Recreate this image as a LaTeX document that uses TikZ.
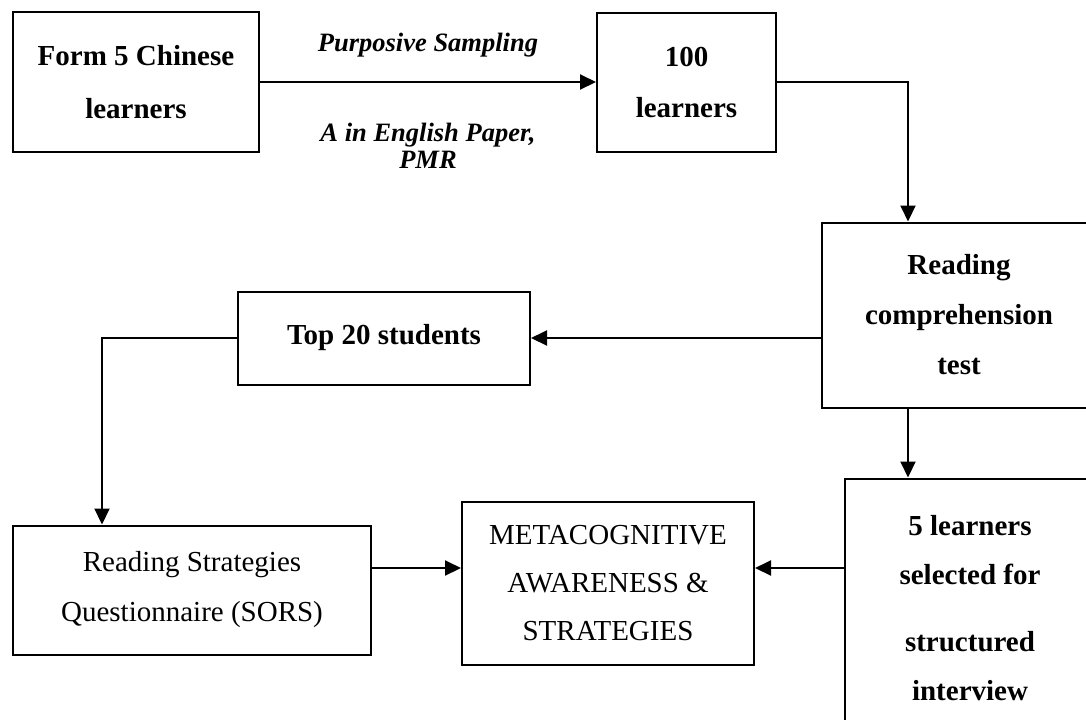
\documentclass[tikz,border=0pt]{standalone}
\usepackage{fontspec}
\setmainfont{Liberation Serif}
\usetikzlibrary{positioning,arrows.meta}
\tikzset{%
  flow box/.style={
    draw,
    align=center,
    inner sep=0pt
  },
  bold lines/.style={
    font=\fontsize{14.5}{#1}\selectfont\bfseries
  },
  plain lines/.style={
    font=\fontsize{14.5}{#1}\selectfont
  },
}

\begin{document}
\begin{tikzpicture}[x=0.5pt,y=-0.5pt,line width=1pt,>={Triangle[length=8pt,width=7.5pt]}]
      \tikzstyle{edge label}=[inner sep=0pt,align=center,font=\fontsize{13.25}{13.5}\selectfont\bfseries\itshape]
      \useasboundingbox (0,0) rectangle (1086,719);
      \clip (0,0) rectangle (1086,719);

      \node[flow box,bold lines=26.5pt,minimum width=123pt,minimum height=70pt] (form5) at (136,82) {Form 5 Chinese\\learners};
      \node[flow box,bold lines=25.5pt,minimum width=89.5pt,minimum height=69.5pt,right=168pt of form5] (hundred) {100\\learners};
      \node[flow box,bold lines=25pt,minimum width=137pt,minimum height=92.5pt,below right=34.5pt and 22pt of hundred] (rct) {Reading\\comprehension\\test};
      \node[flow box,bold lines=24.5pt,minimum width=125pt,minimum height=130pt,below=34.5pt of rct,xshift=5.5pt] (five) {5 learners\\selected for\\[9pt]structured\\interview};
      \node[flow box,bold lines=20pt,minimum width=146pt,minimum height=46.5pt,left=145pt of rct,yshift=-11.5pt] (top20) {Top 20 students};
      \node[flow box,plain lines=24pt,minimum width=146pt,minimum height=81.5pt,left=44.5pt of five,yshift=12.75pt] (meta) {METACOGNITIVE\\AWARENESS \&\\STRATEGIES};
      \node[flow box,plain lines=25pt,minimum width=179pt,minimum height=64.5pt,left=44.5pt of meta,yshift=-3.5pt] (sors) {Reading Strategies\\Questionnaire (SORS)};

      \coordinate (drop) at (908,0);
      \coordinate (turn) at (102,0);
      \coordinate (lvl) at (0,568);

      \draw[->] (form5) -- node[edge label,above=12pt] {Purposive Sampling} node[edge label,below=20pt] {A in English Paper,\\PMR} (hundred);
      \draw[->] (hundred.east) -| (rct.north -| drop);
      \draw[->] (rct.west |- top20) -- (top20);
      \draw[->] (rct.south -| drop) -- (five.north -| drop);
      \draw[->] (top20.west) -| (sors.north -| turn);
      \draw[->] (sors.east |- lvl) -- (meta.west |- lvl);
      \draw[->] (five.west |- lvl) -- (meta.east |- lvl);
  \end{tikzpicture}
\end{document}
